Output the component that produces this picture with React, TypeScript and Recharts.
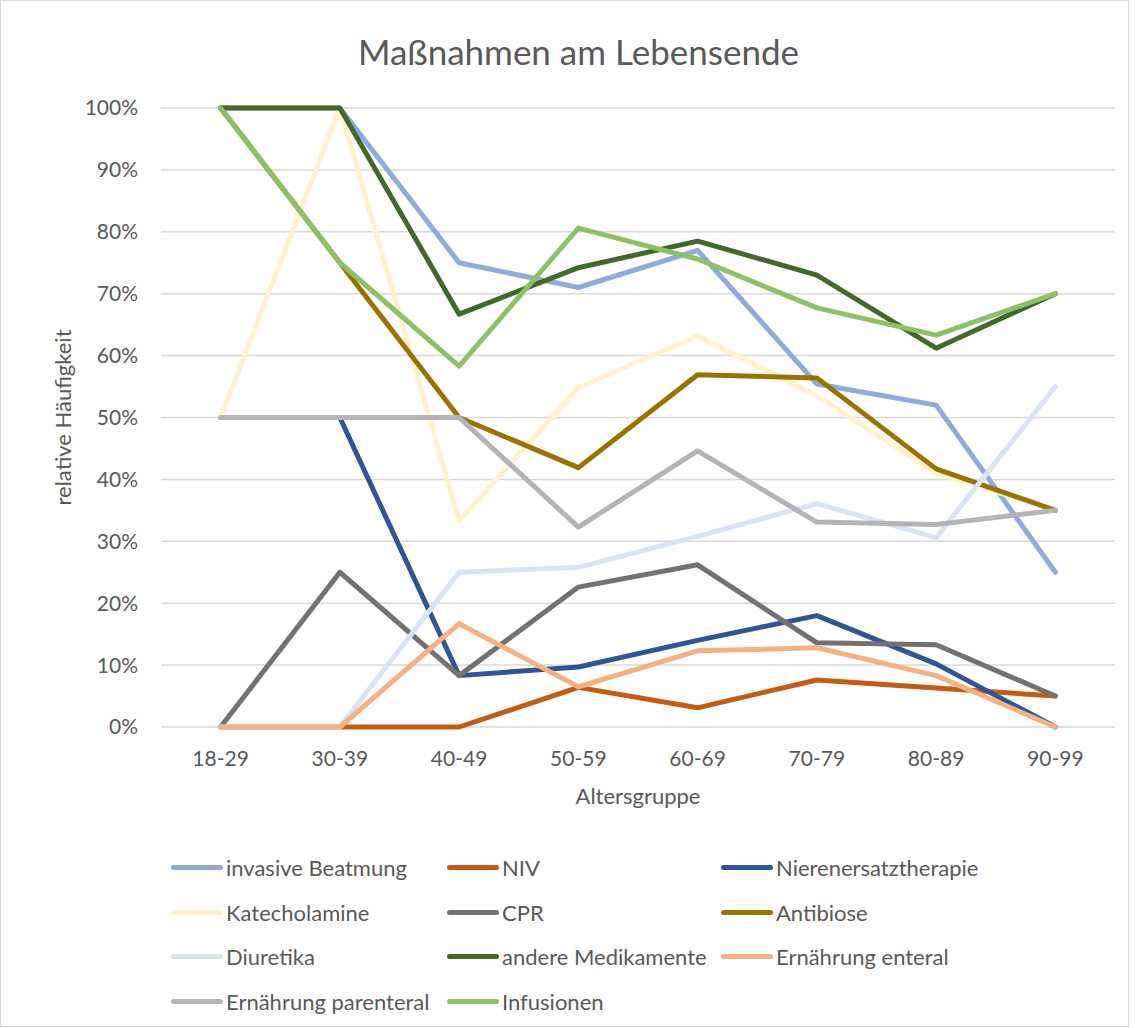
import { CartesianGrid, Legend, Line, LineChart, XAxis, YAxis } from "recharts";

const ageGroups = ["18-29", "30-39", "40-49", "50-59", "60-69", "70-79", "80-89", "90-99"];
const yTicks = [0, 10, 20, 30, 40, 50, 60, 70, 80, 90, 100];

const invasiveBeatmung = [100, 100, 75, 71, 77, 55.4, 52, 25];
const niv = [0, 0, 0, 6.4, 3.1, 7.6, 6.3, 5];
const nierenersatz = [50, 50, 8.3, 9.7, 14, 18, 10.2, 0];
const katecholamine = [50, 100, 33.3, 54.8, 63.2, 53.5, 41, 35];
const cpr = [0, 25, 8.3, 22.6, 26.2, 13.6, 13.3, 5];
const antibiose = [100, 75, 50, 41.9, 56.9, 56.4, 41.7, 35];
const diuretika = [0, 0, 25, 25.8, 30.8, 36.1, 30.6, 55];
const andereMedikamente = [100, 100, 66.7, 74.2, 78.5, 73, 61.2, 70];
const ernaehrungEnteral = [0, 0, 16.7, 6.5, 12.3, 12.8, 8.3, 0];
const ernaehrungParenteral = [50, 50, 50, 32.3, 44.6, 33.1, 32.7, 35];
const infusionen = [100, 75, 58.3, 80.6, 75.6, 67.7, 63.3, 70];

const series = [
  { key: "invasive Beatmung", values: invasiveBeatmung, color: "#8FAADC" },
  { key: "NIV", values: niv, color: "#C55A11" },
  { key: "Nierenersatztherapie", values: nierenersatz, color: "#2F5597" },
  { key: "Katecholamine", values: katecholamine, color: "#FFF2CC" },
  { key: "CPR", values: cpr, color: "#767171" },
  { key: "Antibiose", values: antibiose, color: "#997300" },
  { key: "Diuretika", values: diuretika, color: "#DAE3F3" },
  { key: "andere Medikamente", values: andereMedikamente, color: "#43682B" },
  { key: "Ernährung enteral", values: ernaehrungEnteral, color: "#F4B183" },
  { key: "Ernährung parenteral", values: ernaehrungParenteral, color: "#B4B4B4" },
  { key: "Infusionen", values: infusionen, color: "#8CC168" },
];

const data = ageGroups.map((g, i) => {
  const row: Record<string, string | number> = { group: g };
  series.forEach((s) => {
    row[s.key] = s.values[i];
  });
  return row;
});

const FONT = "Lato, 'Open Sans', sans-serif";
const TEXT = "#595959";

// legend keeps the series order (recharts would sort it by name)
const renderLegend = () => (
  <div
    style={{
      display: "grid",
      gridTemplateColumns: "276px 274px 300px",
      gridAutoRows: "44.7px",
      fontFamily: FONT,
      fontSize: 22,
      color: TEXT,
    }}
  >
    {series.map((s) => (
      <div key={s.key} style={{ display: "flex", alignItems: "center", whiteSpace: "nowrap" }}>
        <span
          style={{
            display: "inline-block",
            width: 52,
            height: 5,
            borderRadius: 3,
            background: s.color,
            marginRight: 3,
          }}
        />
        <span>{s.key}</span>
      </div>
    ))}
  </div>
);

export default function App() {
  return (
    <div
      style={{
        position: "relative",
        width: 1127,
        height: 1025,
        border: "1px solid #d9d9d9",
        background: "#fff",
        fontFamily: FONT,
      }}
    >
      <style>{`body{margin:0}`}</style>
      <div
        style={{
          position: "absolute",
          top: 29,
          left: 0,
          width: 1155,
          textAlign: "center",
          fontSize: 35,
          color: TEXT,
          zIndex: 1,
        }}
      >
        Maßnahmen am Lebensende
      </div>
      <LineChart
        width={1127}
        height={1025}
        data={data}
        margin={{ top: 107, right: 13, bottom: 269, left: 0 }}
      >
        <CartesianGrid vertical={false} stroke="#d9d9d9" strokeWidth={1.5} />
        <XAxis
          dataKey="group"
          scale="band"
          axisLine={false}
          tickLine={false}
          tickMargin={18}
          height={30}
          tick={{ fill: TEXT, fontSize: 21, fontFamily: FONT }}
          label={{
            value: "Altersgruppe",
            position: "bottom",
            offset: 31,
            style: { fill: TEXT, fontSize: 22, fontFamily: FONT },
          }}
        />
        <YAxis
          width={160}
          domain={[0, 100]}
          ticks={yTicks}
          interval={0}
          axisLine={false}
          tickLine={false}
          tickMargin={17}
          tickFormatter={(v: number) => `${v}%`}
          tick={{ fill: TEXT, fontSize: 21, fontFamily: FONT }}
          label={{
            value: "relative Häufigkeit",
            angle: -90,
            position: "insideLeft",
            offset: 62,
            style: { textAnchor: "middle", fill: TEXT, fontSize: 22, fontFamily: FONT },
          }}
        />
        <Legend
          layout="horizontal"
          verticalAlign="middle"
          align="center"
          wrapperStyle={{ top: 844, left: 170, width: 900, height: 180 }}
          content={renderLegend}
        />
        {series.map((s) => (
          <Line
            key={s.key}
            type="linear"
            dataKey={s.key}
            stroke={s.color}
            strokeWidth={5}
            strokeLinecap="round"
            strokeLinejoin="round"
            dot={false}
            activeDot={false}
            isAnimationActive={false}
          />
        ))}
      </LineChart>
    </div>
  );
}
